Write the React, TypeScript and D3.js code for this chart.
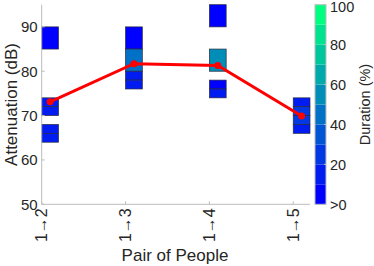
import React from "react";
import * as d3 from "d3";

// pairs along the x axis
const pairs = ["1→2", "1→3", "1→4", "1→5"];

// heat-map cells: which pair, attenuation bin (dB), duration (%)
const cellPair = [0, 0, 0, 0, 0, 1, 1, 1, 1, 2, 2, 2, 2, 3, 3, 3, 3];
const cellLow = [85, 72, 70, 66, 64, 85, 80, 78, 76, 90, 80, 76, 74, 72, 70, 68, 66];
const cellHigh = [90, 74, 72, 68, 66, 90, 85, 80, 78, 95, 85, 78, 76, 74, 72, 70, 68];
const cellDuration = [9, 14, 11, 12, 10, 8, 45, 16, 19, 7, 55, 9, 18, 11, 24, 21, 13];

// mean attenuation per pair (red line)
const meanAtten = [73.1, 81.7, 81.3, 69.9];

const yTicks = [50, 60, 70, 80, 90];
const cbTicks = [0, 20, 40, 60, 80, 100];
const cbTickLabels = [">0", "20", "40", "60", "80", "100"];

const W = 374;
const H = 266;
const font = "'Liberation Sans', Arial, Helvetica, sans-serif";
const txt = "#262626";
const axisCol = "#bcbcbc";

// MATLAB winter colormap, 10 levels
const levels = d3.range(10).map((i) => {
  const t = i / 9;
  return d3.rgb(0, Math.round(255 * t), Math.round(255 * (1 - 0.5 * t))).formatHex();
});

export default function App() {
  const x = d3.scaleLinear().domain([1, 4.2]).range([41.7, 310]);
  const y = d3.scaleLinear().domain([50, 95]).range([204.3, 4.7]);
  const color = d3.scaleQuantize<string>().domain([0, 100]).range(levels);
  const cbY = d3.scaleLinear().domain([0, 100]).range([204.3, 4.7]);
  const cbX0 = 315;
  const cbX1 = 326;

  const line = d3
    .line<number>()
    .x((_, i) => x(i + 1.1))
    .y((d) => y(d));

  const cells = cellPair.map((p, i) => ({
    p,
    lo: cellLow[i],
    hi: cellHigh[i],
    d: cellDuration[i],
  }));

  return (
    <svg
      width={W}
      height={H}
      style={{ position: "absolute", left: 0, top: 0, background: "#fff" }}
      fontFamily={font}
    >
      {/* cells */}
      {cells.map((c, i) => (
        <rect
          key={i}
          x={x(c.p + 1)}
          y={y(c.hi)}
          width={x(c.p + 1.2) - x(c.p + 1)}
          height={y(c.lo) - y(c.hi)}
          fill={color(c.d)}
          stroke="#2a2a40"
          strokeWidth={0.7}
        />
      ))}

      {/* axes */}
      <line x1={x(1)} x2={x(1)} y1={y(95)} y2={y(50)} stroke={axisCol} strokeWidth={1} />
      <line x1={x(1)} x2={x(4.2)} y1={y(50)} y2={y(50)} stroke={axisCol} strokeWidth={1} />
      {yTicks.map((t) => (
        <g key={t}>
          <line x1={x(1)} x2={x(1) + 3} y1={y(t)} y2={y(t)} stroke={axisCol} />
          <text
            x={x(1) - 4}
            y={y(t)}
            dy="0.36em"
            textAnchor="end"
            fontSize={15}
            fill={txt}
          >
            {t}
          </text>
        </g>
      ))}
      {pairs.map((p, i) => (
        <g key={p}>
          <line x1={x(i + 1)} x2={x(i + 1)} y1={y(50)} y2={y(50) - 3} stroke={axisCol} />
          <text
            transform={`translate(${x(i + 1) + 5.5},${y(50) + 4}) rotate(-90)`}
            textAnchor="end"
            fontSize={16}
            fill={txt}
          >
            {p}
          </text>
        </g>
      ))}

      {/* mean line */}
      <path d={line(meanAtten) ?? ""} fill="none" stroke="#ff0000" strokeWidth={3} />
      {meanAtten.map((v, i) => (
        <circle key={i} cx={x(i + 1.1)} cy={y(v)} r={3.5} fill="#ff0000" />
      ))}

      {/* axis titles */}
      <text x={175} y={261} textAnchor="middle" fontSize={17} fill={txt}>
        Pair of People
      </text>
      <text
        transform={`translate(17,${(y(50) + y(95)) / 2}) rotate(-90)`}
        textAnchor="middle"
        fontSize={17}
        fill={txt}
      >
        Attenuation (dB)
      </text>

      {/* colorbar */}
      {levels.map((c, i) => (
        <rect
          key={i}
          x={cbX0}
          y={cbY((i + 1) * 10)}
          width={cbX1 - cbX0}
          height={cbY(i * 10) - cbY((i + 1) * 10)}
          fill={c}
        />
      ))}
      <rect
        x={cbX0}
        y={cbY(100)}
        width={cbX1 - cbX0}
        height={cbY(0) - cbY(100)}
        fill="none"
        stroke={axisCol}
      />
      {cbTicks.map((t, i) => (
        <g key={t}>
          <line x1={cbX1} x2={cbX1 - 2} y1={cbY(t)} y2={cbY(t)} stroke={axisCol} />
          <text
            x={cbX1 + 4}
            y={Math.max(cbY(t), 6.5)}
            dy="0.36em"
            fontSize={14.5}
            fill={txt}
          >
            {cbTickLabels[i]}
          </text>
        </g>
      ))}
      <text
        transform={`translate(370,${(cbY(0) + cbY(100)) / 2}) rotate(-90)`}
        textAnchor="middle"
        fontSize={14.5}
        fill={txt}
      >
        Duration (%)
      </text>
    </svg>
  );
}
